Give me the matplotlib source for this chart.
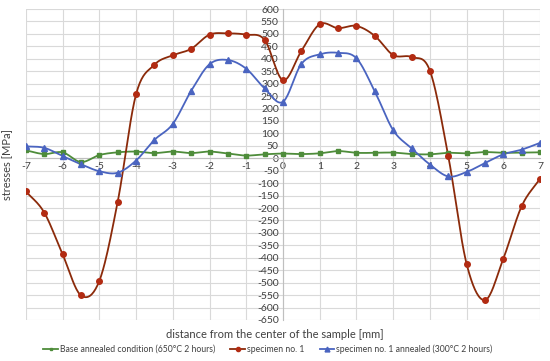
import numpy as np
import matplotlib
matplotlib.use('Agg')
import matplotlib.pyplot as plt

# distance from centre [mm], one reading every 0.5 mm
distance = [-7, -6.5, -6, -5.5, -5, -4.5, -4, -3.5, -3, -2.5, -2, -1.5, -1, -0.5,
            0, 0.5, 1, 1.5, 2, 2.5, 3, 3.5, 4, 4.5, 5, 5.5, 6, 6.5, 7]

base_annealed = [32, 17, 24, -15, 13, 24, 27, 21, 27, 21, 27, 19, 11, 16,
                 19, 17, 20, 29, 22, 22, 23, 17, 16, 22, 20, 25, 22, 23, 24]

specimen_1 = [-133, -218, -386, -551, -493, -175, 257, 376, 414, 440, 497, 502, 497, 476,
              314, 431, 539, 523, 532, 492, 415, 407, 352, 9, -425, -570, -403, -192, -82]

specimen_1_annealed = [48, 42, 9, -24, -52, -58, -9, 74, 138, 271, 378, 395, 360, 281,
                       227, 379, 418, 424, 402, 269, 113, 40, -25, -73, -55, -19, 16, 35, 62]

labels = ['Base annealed condition (650°C 2 hours)', 'specimen no. 1',
          'specimen no. 1 annealed (300°C 2 hours)']


def smooth(x, y, n=20):
    # Catmull-Rom curve through the points, close to Excel's smoothed line
    x = np.asarray(x, float)
    y = np.asarray(y, float)
    px = np.concatenate([[2 * x[0] - x[1]], x, [2 * x[-1] - x[-2]]])
    py = np.concatenate([[2 * y[0] - y[1]], y, [2 * y[-1] - y[-2]]])
    xs, ys = [], []
    t = np.linspace(0, 1, n, endpoint=False)
    for i in range(1, len(px) - 2):
        for p, out in ((px, xs), (py, ys)):
            p0, p1, p2, p3 = p[i - 1], p[i], p[i + 1], p[i + 2]
            out.extend(0.5 * (2 * p1 + (-p0 + p2) * t
                              + (2 * p0 - 5 * p1 + 4 * p2 - p3) * t ** 2
                              + (-p0 + 3 * p1 - 3 * p2 + p3) * t ** 3))
    xs.append(x[-1])
    ys.append(y[-1])
    return np.array(xs), np.array(ys)


plt.rcParams['font.family'] = ['Lato', 'DejaVu Sans']
plt.rcParams['axes.unicode_minus'] = False
fig = plt.figure(figsize=(5.5, 3.61), dpi=100)
ax = fig.add_axes([0.047, 0.1136, 0.935, 0.8614])

series = [
    (base_annealed, '#4e8c3a', '#4e8c3a', 's', 3.0),
    (specimen_1, '#8b2a0a', '#b22b12', 'o', 4.0),
    (specimen_1_annealed, '#4a64c0', '#4a64c0', '^', 4.5),
]
handles = []
for (vals, lc, mc, mk, ms), lab in zip(series, labels):
    sx, sy = smooth(distance, vals)
    ax.plot(sx, sy, color=lc, lw=1.3, zorder=3)
    ax.plot(distance, vals, ls='none', marker=mk, ms=ms, color=mc, zorder=4)
    h, = ax.plot([], [], color=lc, lw=1.3, marker=mk, ms=ms - 1, mfc=mc, mec=mc)
    handles.append(h)

ax.set_xlim(-7, 7)
ax.set_ylim(-650, 600)
ax.set_xticks(range(-7, 8))
ax.set_yticks(range(-650, 601, 50))
ax.grid(True, color='#d9d9d9', lw=0.8)
ax.set_axisbelow(True)

for s in ['top', 'right']:
    ax.spines[s].set_visible(False)
ax.spines['left'].set_position(('data', 0))
ax.spines['bottom'].set_position(('data', 0))
ax.spines['left'].set_color('#bfbfbf')
ax.spines['bottom'].set_color('#bfbfbf')
ax.tick_params(length=0, labelsize=7.5, colors='#404040', pad=3)

ax.text(-0.035, 0.5, 'stresses [MPa]', transform=ax.transAxes, rotation=90,
        ha='center', va='center', fontsize=8, color='#404040')
fig.text(0.5, 0.073, 'distance from the center of the sample [mm]',
         ha='center', va='center', fontsize=8, color='#404040')
fig.legend(handles, labels, loc='center', bbox_to_anchor=(0.487, 0.033), ncol=3,
           frameon=False, fontsize=6.2, handlelength=1.7, columnspacing=1.8,
           handletextpad=0.2, labelcolor='#404040')

fig.savefig('out.png', dpi=100)
